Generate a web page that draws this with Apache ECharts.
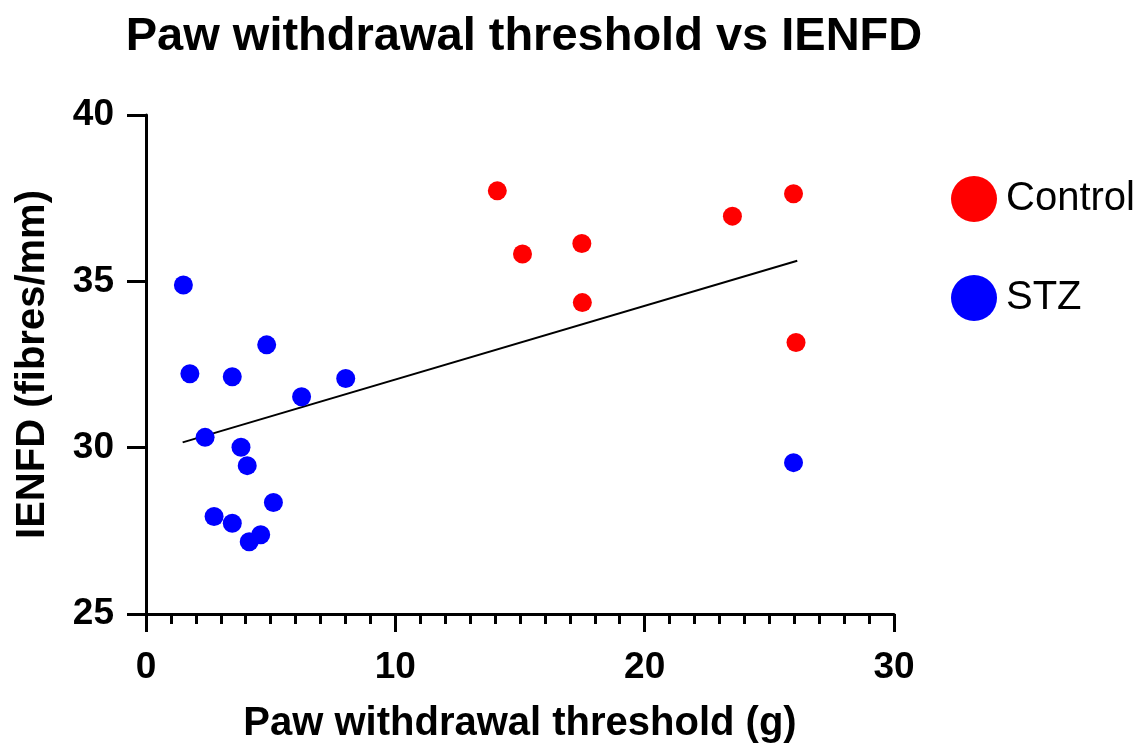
<!DOCTYPE html>
<html>
<head>
<meta charset="utf-8">
<script src="https://cdn.jsdelivr.net/npm/echarts@6/dist/echarts.min.js"></script>
<style>
  html, body { margin: 0; padding: 0; background: #fff; }
  #chart { width: 1140px; height: 744px; }
</style>
</head>
<body>
<div id="chart"></div>
<script>
// Paw withdrawal threshold (g) and IENFD (fibres/mm) per animal
const controlX = [14.09, 25.97, 23.52, 17.48, 15.10, 17.50, 26.07];
const controlY = [37.72, 37.63, 36.96, 36.14, 35.82, 34.36, 33.16];

const stzX = [1.50, 4.84, 1.76, 3.46, 8.01, 6.24, 2.37, 3.81, 4.06, 5.11, 2.73, 3.46, 4.60, 4.14, 25.97];
const stzY = [34.89, 33.09, 32.22, 32.13, 32.08, 31.53, 30.31, 30.01, 29.46, 28.35, 27.93, 27.73, 27.38, 27.17, 29.55];

// Linear fit across all animals (end points)
const fitX = [1.47, 26.12];
const fitY = [30.16, 35.62];

const xTicks = [0, 10, 20, 30];
const yTicks = [25, 30, 35, 40];

const zip = (xs, ys) => xs.map((x, i) => [x, ys[i]]);
const FONT = 'Arial, "Liberation Sans", sans-serif';

const chart = echarts.init(document.getElementById('chart'), null, { renderer: 'canvas' });

chart.setOption({
  animation: false,
  backgroundColor: '#fff',
  title: {
    text: 'Paw withdrawal threshold vs IENFD',
    left: 519,
    textAlign: 'center',
    top: 9,
    textStyle: { fontFamily: FONT, fontSize: 47, fontWeight: 'bold', color: '#000' }
  },
  legend: {
    orient: 'vertical',
    left: 946,
    top: 171,
    itemWidth: 46,
    itemHeight: 46,
    itemGap: 53,
    icon: 'circle',
    data: ['Control', 'STZ'],
    textStyle: { fontFamily: FONT, fontSize: 40, color: '#000', padding: [0, 0, 0, 4] }
  },
  grid: { left: 146, right: 246, top: 115, bottom: 130, containLabel: false, outerBoundsMode: 'none' },
  xAxis: {
    type: 'value',
    min: xTicks[0],
    max: xTicks[xTicks.length - 1],
    interval: 10,
    name: 'Paw withdrawal threshold (g)',
    nameLocation: 'middle',
    nameGap: 90,
    nameTextStyle: { fontFamily: FONT, fontSize: 40, fontWeight: 'bold', color: '#000' },
    axisLine: { show: true, onZero: false, lineStyle: { color: '#000', width: 3 } },
    axisTick: { show: true, inside: false, length: 18, lineStyle: { color: '#000', width: 3 } },
    minorTick: { show: true, splitNumber: 10, length: 10, lineStyle: { color: '#000', width: 3 } },
    axisLabel: { margin: 35, fontFamily: FONT, fontSize: 37, fontWeight: 'bold', color: '#000' },
    splitLine: { show: false }
  },
  yAxis: {
    type: 'value',
    min: yTicks[0],
    max: yTicks[yTicks.length - 1],
    interval: 5,
    name: 'IENFD (fibres/mm)',
    nameLocation: 'middle',
    nameGap: 93,
    nameTextStyle: { fontFamily: FONT, fontSize: 40, fontWeight: 'bold', color: '#000' },
    axisLine: { show: true, onZero: false, lineStyle: { color: '#000', width: 3 } },
    axisTick: { show: true, inside: false, length: 19, lineStyle: { color: '#000', width: 3 } },
    axisLabel: { margin: 32, fontFamily: FONT, fontSize: 37, fontWeight: 'bold', color: '#000' },
    splitLine: { show: false }
  },
  series: [
    {
      name: 'Fit',
      type: 'line',
      data: zip(fitX, fitY),
      symbol: 'none',
      lineStyle: { color: '#000', width: 2 },
      z: 1,
      silent: true
    },
    {
      name: 'Control',
      type: 'scatter',
      data: zip(controlX, controlY),
      symbol: 'circle',
      symbolSize: 19,
      itemStyle: { color: '#ff0000', opacity: 1 },
      z: 3
    },
    {
      name: 'STZ',
      type: 'scatter',
      data: zip(stzX, stzY),
      symbol: 'circle',
      symbolSize: 19,
      itemStyle: { color: '#0000ff', opacity: 1 },
      z: 3
    }
  ]
});
</script>
</body>
</html>
